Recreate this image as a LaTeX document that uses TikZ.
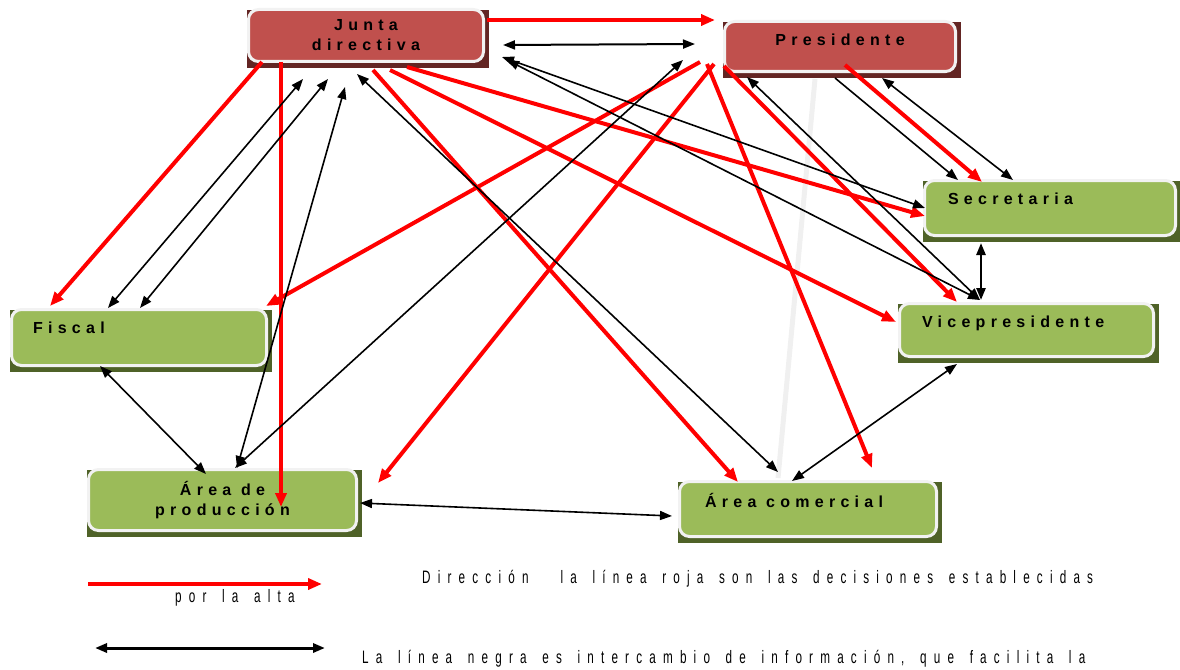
\documentclass[tikz,border=0pt]{standalone}
\usepackage{fontspec}
\setmainfont{Liberation Sans}
\newfontfamily\boxfont[LetterSpace=33]{Liberation Sans}
\newfontfamily\legfont[LetterSpace=40,WordSpace=1.5,FakeStretch=0.65]{Liberation Sans}
\newcommand\boxtext{\boxfont\bfseries\fontsize{16}{20}\selectfont}
\newcommand\legtextfont{\legfont\fontsize{18}{21}\selectfont}
\usetikzlibrary{arrows.meta,backgrounds}

\definecolor{boxred}{HTML}{C0504D}
\definecolor{shadowred}{HTML}{632523}
\definecolor{boxgreen}{HTML}{9BBB59}
\definecolor{shadowgreen}{HTML}{4F6228}
\definecolor{boxrim}{HTML}{F2F2F2}
\definecolor{linered}{HTML}{FF0000}

\tikzset{
  orgbox/.style={rectangle, rounded corners=10pt, draw=boxrim, line width=3pt, inner sep=0pt, font=\boxtext},
  redbox/.style={orgbox, fill=boxred, align=center},
  greenbox/.style={orgbox, fill=boxgreen},
  decide/.style={draw=linered, line width=4pt, -{Triangle[length=14pt,width=11pt]}},
  inform/.style={line width=1.6pt, {Triangle[length=12pt,width=9pt]}-{Triangle[length=12pt,width=9pt]}},
  informone/.style={line width=1.6pt, -{Triangle[length=12pt,width=9pt]}},
  legtext/.style={anchor=west, inner sep=0pt, font=\legtextfont}
}

\begin{document}
\begin{tikzpicture}[x=1pt, y=-1pt]
  \useasboundingbox (0,0) rectangle (1180,669);

  % Boxes
  \node[redbox, minimum width=235, minimum height=52] (jd) at (366,35.5) {Junta\\directiva};
  \node[redbox, minimum width=231, minimum height=50, text depth=13pt] (pres) at (840,46.5) {Presidente};
  \node[greenbox, minimum width=251, minimum height=55, inner xsep=23.5pt, text depth=18pt] (secr) at (1050,208) {\makebox[204pt][l]{Secretaria}};
  \node[greenbox, minimum width=254, minimum height=53, inner xsep=22.5pt, text depth=16pt] (vice) at (1026.5,330) {\makebox[209pt][l]{Vicepresidente}};
  \node[greenbox, minimum width=255, minimum height=56, inner xsep=21.5pt, text depth=20pt] (fisc) at (139,337.5) {\makebox[212pt][l]{Fiscal}};
  \node[greenbox, minimum width=268, minimum height=61, align=center] (prod) at (222.5,500) {Área de\\producción};
  \node[greenbox, minimum width=257, minimum height=55, inner xsep=25.5pt, text depth=18pt] (com) at (808,509) {\makebox[206pt][l]{Área comercial}};

  % Shadows and faint line
  \begin{scope}[on background layer]
    \foreach \n/\c in {jd/shadowred, pres/shadowred, secr/shadowgreen, vice/shadowgreen,
                       fisc/shadowgreen, prod/shadowgreen, com/shadowgreen}
      \fill[\c] ([shift={(0,2)}]\n.north west) rectangle ([shift={(4,5)}]\n.south east);
    \draw[gray!12, line width=5pt] ([shift={(92,6)}]pres.south west) -- ([shift={(100,-2)}]com.north west);
  \end{scope}

  % Red lines: decisions
  \draw[decide] ([shift={(2,12)}]jd.north east) -- ([shift={(-8,0)}]pres.north west);
  \draw[decide] ([shift={(15,-1)}]jd.south west) -- ([shift={(40,-2)}]fisc.north west);
  \draw[decide] ([shift={(34,-1)}]jd.south west) -- ([shift={(194,39)}]prod.north west);
  \draw[decide] ([shift={(126,7)}]jd.south west) -- ([shift={(60,2)}]com.north west);
  \draw[decide] ([shift={(143,7)}]jd.south west) -- ([shift={(-2,20)}]vice.north west);
  \draw[decide] ([shift={(160,4)}]jd.south west) -- ([shift={(2,37)}]secr.north west);
  \draw[decide] ([shift={(-16,-9)}]pres.south west) -- ([shift={(194,-12)}]com.north west);
  \draw[decide] ([shift={(-9,-9)}]pres.south west) -- ([shift={(20,15)}]prod.north east);
  \draw[decide] ([shift={(-23,-11)}]pres.south west) -- ([shift={(-2,-2)}]fisc.north east);
  \draw[decide] ([shift={(1,-7)}]pres.south west) -- ([shift={(59,0)}]vice.north west);
  \draw[decide] ([shift={(122,-8)}]pres.south west) -- ([shift={(59,3)}]secr.north west);

  % Black lines: information
  \draw[inform, line width=2pt] ([shift={(18,37)}]jd.north east) -- ([shift={(-28,24)}]pres.north west);
  \draw[inform] ([shift={(17,49)}]jd.north east) -- ([shift={(2,29)}]secr.north west);
  \draw[inform] ([shift={(22,52)}]jd.north east) -- ([shift={(82,-2)}]vice.north west);
  \draw[inform] ([shift={(24,4)}]pres.south west) -- ([shift={(82,-2)}]vice.north west);
  \draw[informone] ([shift={(112,5)}]pres.south west) -- ([shift={(35,1)}]secr.north west);
  \draw[inform] ([shift={(159,5)}]pres.south west) -- ([shift={(90,1)}]secr.north west);
  \draw[inform, line width=2.5pt] ([shift={(58,6)}]secr.south west) -- ([shift={(83,-2)}]vice.north west);
  \draw[inform] ([shift={(98,0)}]fisc.north west) -- ([shift={(56,16)}]jd.south west);
  \draw[inform] ([shift={(130,0)}]fisc.north west) -- ([shift={(81,16)}]jd.south west);
  \draw[inform] ([shift={(150,0)}]prod.north west) -- ([shift={(98,24)}]jd.south west);
  \draw[inform] ([shift={(148,0)}]prod.north west) -- ([shift={(-40,-13)}]pres.south west);
  \draw[inform] ([shift={(90,-1)}]fisc.south west) -- ([shift={(119,6)}]prod.north west);
  \draw[inform] ([shift={(110,11)}]jd.south west) -- ([shift={(100,-8)}]com.north west);
  \draw[inform] ([shift={(114,1)}]com.north west) -- ([shift={(59,6)}]vice.south west);
  \draw[inform] ([shift={(2,-29)}]prod.south east) -- ([shift={(-6,-22)}]com.south west);

  % Legend
  \coordinate (redA) at (88,584);
  \coordinate (redB) at (322,584);
  \coordinate (blackA) at (95,648);
  \coordinate (blackB) at (325,648);
  \draw[decide] (redA) -- (redB);
  \draw[inform, line width=3pt] (blackA) -- (blackB);
  \node[legtext] (legred) at (422,579) {Dirección\hspace{32pt}la línea roja son las decisiones establecidas};
  \node[legtext] (legalta) at (175,598) {por la alta};
  \node[legtext] (legblack) at (362,659) {La línea negra es intercambio de información, que facilita la};

\end{tikzpicture}
\end{document}
